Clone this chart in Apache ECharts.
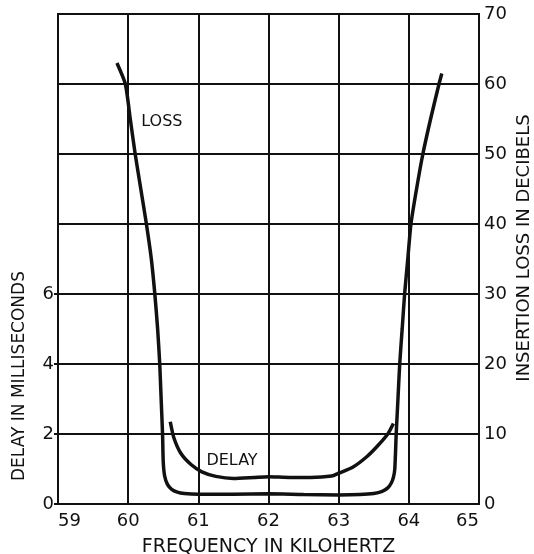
<!DOCTYPE html>
<html>
<head>
<meta charset="utf-8">
<script src="https://cdn.jsdelivr.net/npm/echarts@6/dist/echarts.min.js"></script>
<style>html,body{margin:0;padding:0;background:#fff;}#c{width:534px;height:554px;}</style>
</head>
<body>
<div id="c"></div>
<script>
// Frequency ticks (kHz)
const freqTicks = [59, 60, 61, 62, 63, 64, 65];
// Delay axis tick labels (ms)
const delayTicks = [0, 2, 4, 6];
// Insertion loss axis ticks (dB)
const lossTicks = [0, 10, 20, 30, 40, 50, 60, 70];

// Insertion loss curve: frequency (kHz) and loss (dB)
const lossFreq = [59.84, 59.96, 60.03, 60.1, 60.18, 60.26, 60.33, 60.38, 60.42, 60.45, 60.47, 60.49, 60.5, 60.52, 60.56, 60.62, 60.7, 60.8, 61.0, 61.5, 62.0, 62.5, 63.0, 63.3, 63.5, 63.62, 63.7, 63.75, 63.78, 63.8, 63.82, 63.845, 63.87, 63.905, 63.94, 63.985, 64.03, 64.11, 64.2, 64.31, 64.43, 64.47];
const lossDb   = [63.0, 60.0, 55.0, 50.0, 45.0, 40.0, 35.0, 30.0, 25.0, 20.0, 15.0, 10.0, 6.0, 4.0, 2.8, 2.1, 1.7, 1.5, 1.4, 1.4, 1.45, 1.35, 1.3, 1.35, 1.5, 1.8, 2.3, 3.0, 3.8, 5.0, 10.0, 15.0, 20.0, 25.0, 30.0, 35.0, 40.0, 45.0, 50.0, 55.0, 60.0, 61.5];

// Delay curve: frequency (kHz) and delay (ms)
const delayFreq = [60.6, 60.65, 60.75, 60.9, 61.05, 61.25, 61.5, 61.8, 62.0, 62.3, 62.6, 62.9, 63.0, 63.2, 63.4, 63.55, 63.7, 63.78];
const delayMs   = [2.35, 1.9, 1.45, 1.12, 0.92, 0.79, 0.73, 0.76, 0.78, 0.76, 0.76, 0.8, 0.88, 1.05, 1.35, 1.65, 2.0, 2.3];

const FONT = 'DejaVu Sans';
const INK = '#111';

const chart = echarts.init(document.getElementById('c'), null, {renderer: 'canvas'});
chart.setOption({
  animation: false,
  backgroundColor: '#fff',
  grid: {left: 58, right: 55, top: 14, bottom: 50, containLabel: false, outerBoundsMode: 'none',
         show: true, borderColor: INK, borderWidth: 2, backgroundColor: 'transparent'},
  xAxis: {
    type: 'value', min: freqTicks[0], max: freqTicks[freqTicks.length - 1], interval: 1,
    axisLine: {show: true, lineStyle: {color: INK, width: 2}},
    axisTick: {show: false},
    splitLine: {show: true, lineStyle: {color: INK, width: 2}},
    axisLabel: {color: INK, fontFamily: FONT, fontSize: 18, margin: 8, alignMinLabel: 'left', alignMaxLabel: 'right'},
    name: 'FREQUENCY IN KILOHERTZ', nameLocation: 'middle', nameGap: 34,
    nameTextStyle: {color: INK, fontFamily: FONT, fontSize: 19}
  },
  yAxis: [
    {
      type: 'value', min: 0, max: 14, interval: 2, position: 'left',
      axisLine: {show: true, lineStyle: {color: INK, width: 2}},
      axisTick: {show: true, inside: false, length: 4, customValues: delayTicks, lineStyle: {color: INK, width: 2}},
      splitLine: {show: false},
      axisLabel: {color: INK, fontFamily: FONT, fontSize: 18, margin: 4, customValues: delayTicks}
    },
    {
      type: 'value', min: lossTicks[0], max: lossTicks[lossTicks.length - 1], interval: 10, position: 'right',
      axisLine: {show: true, lineStyle: {color: INK, width: 2}},
      axisTick: {show: false},
      splitLine: {show: true, lineStyle: {color: INK, width: 2}},
      axisLabel: {color: INK, fontFamily: FONT, fontSize: 18, margin: 5}
    }
  ],
  series: [
    {
      name: 'LOSS', type: 'line', yAxisIndex: 1, smooth: 0.2, showSymbol: false,
      data: lossFreq.map((f, i) => [f, lossDb[i]]),
      lineStyle: {color: INK, width: 3.5},
      markPoint: {
        symbol: 'circle', symbolSize: 0,
        label: {show: true, formatter: 'LOSS', color: INK, fontFamily: FONT, fontSize: 16, position: 'inside'},
        data: [{coord: [60.48, 54.6]}]
      }
    },
    {
      name: 'DELAY', type: 'line', yAxisIndex: 0, smooth: 0.2, showSymbol: false,
      data: delayFreq.map((f, i) => [f, delayMs[i]]),
      lineStyle: {color: INK, width: 3.5},
      markPoint: {
        symbol: 'circle', symbolSize: 0,
        label: {show: true, formatter: 'DELAY', color: INK, fontFamily: FONT, fontSize: 16, position: 'inside'},
        data: [{coord: [61.48, 1.23]}]
      }
    }
  ],
  graphic: [
    {type: 'text', rotation: Math.PI / 2, x: 20, y: 376,
     style: {text: 'DELAY IN MILLISECONDS', fill: INK, font: '17px "DejaVu Sans"', textAlign: 'center', textVerticalAlign: 'middle'}},
    {type: 'text', rotation: Math.PI / 2, x: 524, y: 248,
     style: {text: 'INSERTION LOSS IN DECIBELS', fill: INK, font: '18px "DejaVu Sans"', textAlign: 'center', textVerticalAlign: 'middle'}}
  ]
});
</script>
</body>
</html>
